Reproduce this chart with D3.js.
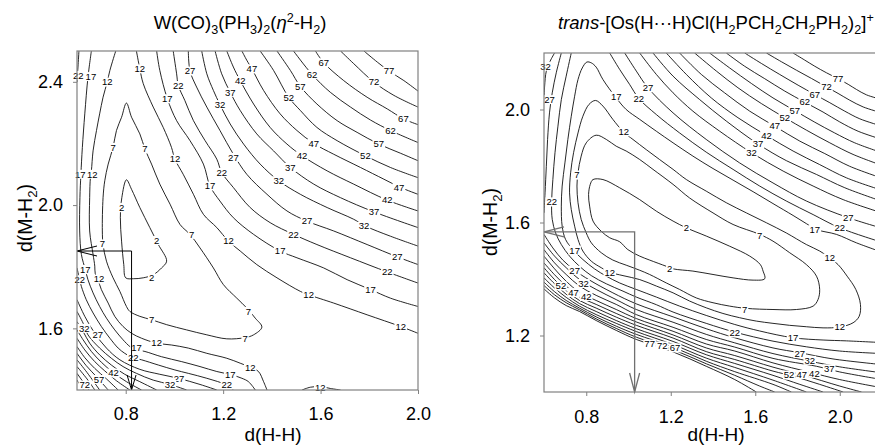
<!DOCTYPE html>
<html>
<head>
<meta charset="utf-8">
<script src="https://d3js.org/d3.v7.min.js"></script>
<style>
  body { margin: 0; background: #fff; }
  text { font-family: "Liberation Sans", Arial, sans-serif; }
</style>
</head>
<body>
<script>
// ---------- data: d(H-H) on x, d(M-H2) on y, energy contours (kcal/mol) ----------
const wTicksX = [0.8, 1.2, 1.6, 2.0];
const wTicksY = [1.6, 2.0, 2.4];
const osTicksX = [0.8, 1.2, 1.6, 2.0];
const osTicksY = [1.2, 1.6, 2.0];

// W(CO)3(PH3)2(H2) surface: [level, [[dHH, dMH], ...]]
const wContours = [
  [2, [[0.803,2.082],[0.824,2.051],[0.858,1.992],[0.899,1.927],[0.934,1.872],[0.968,1.818],[0.947,1.796],[0.913,1.774],[0.872,1.764],[0.831,1.761],[0.800,1.764],[0.792,1.807],[0.783,1.883],[0.778,1.959],[0.784,2.024],[0.803,2.082]]],
  [7, [[0.803,2.331],[0.824,2.285],[0.858,2.231],[0.879,2.182],[0.906,2.133],[0.940,2.068],[0.982,2.003],[1.023,1.937],[1.064,1.905],[1.105,1.861],[1.160,1.796],[1.201,1.742],[1.256,1.698],[1.297,1.666],[1.332,1.633],[1.359,1.604],[1.325,1.579],[1.290,1.570],[1.215,1.566],[1.133,1.579],[1.050,1.595],[0.968,1.612],[0.906,1.628],[0.858,1.639],[0.817,1.655],[0.803,1.671],[0.776,1.720],[0.748,1.764],[0.721,1.818],[0.707,1.872],[0.704,1.916],[0.707,2.024],[0.714,2.079],[0.728,2.133],[0.748,2.187],[0.762,2.242],[0.783,2.285],[0.803,2.331]]],
  [12, [[0.844,2.5],[0.858,2.442],[0.872,2.394],[0.913,2.318],[0.954,2.252],[0.988,2.187],[1.002,2.149],[1.036,2.100],[1.078,2.035],[1.119,1.970],[1.174,1.927],[1.222,1.883],[1.270,1.851],[1.338,1.807],[1.421,1.764],[1.517,1.720],[1.551,1.709],[1.654,1.682],[1.791,1.644],[1.929,1.606],[2.0,1.584]]],
  [12, [[0.759,2.5],[0.735,2.437],[0.724,2.399],[0.707,2.350],[0.693,2.296],[0.680,2.242],[0.666,2.176],[0.659,2.111],[0.655,2.089],[0.652,2.024],[0.652,1.916],[0.666,1.840],[0.673,1.802],[0.675,1.777],[0.686,1.758],[0.700,1.726],[0.728,1.682],[0.755,1.639],[0.789,1.606],[0.824,1.584],[0.865,1.568],[0.927,1.552],[0.988,1.546],[1.057,1.536],[1.133,1.519],[1.215,1.503],[1.270,1.487],[1.311,1.474],[1.345,1.460],[1.366,1.427],[1.380,1.4]]],
  [12, [[1.524,1.4],[1.558,1.409],[1.599,1.411],[1.640,1.405],[1.682,1.4]]],
  [17, [[0.927,2.5],[0.940,2.437],[0.971,2.345],[1.009,2.274],[1.064,2.209],[1.119,2.133],[1.146,2.062],[1.187,2.013],[1.242,1.959],[1.325,1.905],[1.434,1.851],[1.503,1.829],[1.613,1.796],[1.709,1.758],[1.805,1.726],[1.887,1.698],[2.0,1.671]]],
  [17, [[0.659,2.5],[0.645,2.415],[0.632,2.296],[0.622,2.187],[0.616,2.100],[0.612,2.024],[0.611,1.916],[0.618,1.840],[0.634,1.791],[0.645,1.758],[0.666,1.715],[0.693,1.671],[0.721,1.633],[0.755,1.595],[0.789,1.563],[0.817,1.541],[0.837,1.532],[0.879,1.525],[0.947,1.508],[1.030,1.492],[1.105,1.476],[1.174,1.460],[1.235,1.449],[1.277,1.438],[1.304,1.427],[1.332,1.4]]],
  [22, [[0.608,2.5],[0.604,2.448],[0.6,2.399]]],
  [22, [[0.6,1.796],[0.611,1.758],[0.618,1.736],[0.638,1.693],[0.666,1.650],[0.700,1.606],[0.735,1.568],[0.769,1.536],[0.796,1.519],[0.826,1.506],[0.865,1.498],[0.934,1.481],[1.002,1.465],[1.057,1.454],[1.133,1.438],[1.215,1.416],[1.242,1.4]]],
  [22, [[0.995,2.5],[1.009,2.426],[1.016,2.388],[1.043,2.339],[1.078,2.274],[1.126,2.209],[1.174,2.149],[1.194,2.106],[1.242,2.057],[1.311,1.992],[1.393,1.943],[1.489,1.905],[1.585,1.872],[1.723,1.829],[1.874,1.783],[2.0,1.747]]],
  [27, [[1.057,2.5],[1.064,2.435],[1.091,2.383],[1.133,2.318],[1.187,2.242],[1.242,2.165],[1.297,2.100],[1.380,2.035],[1.462,1.981],[1.544,1.948],[1.654,1.916],[1.791,1.872],[1.915,1.832],[2.0,1.807]]],
  [27, [[0.6,1.693],[0.632,1.639],[0.673,1.584],[0.721,1.536],[0.776,1.498],[0.858,1.467],[0.940,1.451],[1.016,1.438],[1.105,1.418],[1.174,1.4]]],
  [32, [[1.112,2.5],[1.133,2.426],[1.160,2.372],[1.187,2.326],[1.229,2.263],[1.284,2.198],[1.352,2.133],[1.428,2.079],[1.517,2.035],[1.627,1.992],[1.736,1.954],[1.784,1.932],[1.887,1.899],[2.0,1.867]]],
  [32, [[0.6,1.655],[0.625,1.617],[0.645,1.579],[0.693,1.536],[0.741,1.503],[0.789,1.476],[0.844,1.454],[0.913,1.432],[0.982,1.418],[1.050,1.4]]],
  [37, [[1.167,2.5],[1.194,2.426],[1.229,2.366],[1.270,2.307],[1.338,2.231],[1.407,2.176],[1.476,2.122],[1.572,2.068],[1.682,2.024],[1.819,1.978],[2.0,1.927]]],
  [37, [[0.6,1.622],[0.625,1.590],[0.652,1.552],[0.693,1.514],[0.741,1.481],[0.796,1.451],[0.858,1.427],[0.927,1.4]]],
  [42, [[1.215,2.5],[1.242,2.448],[1.270,2.404],[1.325,2.328],[1.393,2.252],[1.462,2.198],[1.524,2.160],[1.627,2.111],[1.736,2.068],[1.874,2.016],[2.0,1.981]]],
  [42, [[0.6,1.595],[0.625,1.563],[0.659,1.525],[0.700,1.490],[0.748,1.457],[0.803,1.427],[0.865,1.4]]],
  [47, [[1.277,2.5],[1.297,2.470],[1.318,2.442],[1.366,2.372],[1.434,2.296],[1.503,2.242],[1.572,2.200],[1.654,2.165],[1.764,2.122],[1.860,2.084],[1.929,2.057],[2.0,2.035]]],
  [47, [[0.6,1.568],[0.632,1.530],[0.673,1.492],[0.714,1.462],[0.762,1.430],[0.817,1.4]]],
  [52, [[1.352,2.5],[1.407,2.437],[1.469,2.350],[1.517,2.307],[1.585,2.252],[1.668,2.209],[1.784,2.160],[1.887,2.122],[2.0,2.089]]],
  [52, [[0.6,1.541],[0.632,1.505],[0.673,1.470],[0.721,1.436],[0.769,1.4]]],
  [57, [[1.421,2.5],[1.476,2.437],[1.517,2.385],[1.585,2.328],[1.668,2.274],[1.750,2.236],[1.839,2.198],[1.929,2.168],[2.0,2.144]]],
  [57, [[0.6,1.519],[0.638,1.479],[0.680,1.443],[0.728,1.4]]],
  [62, [[1.489,2.5],[1.565,2.424],[1.640,2.366],[1.723,2.318],[1.805,2.276],[1.887,2.242],[2.0,2.203]]],
  [62, [[0.6,1.498],[0.641,1.457],[0.693,1.4]]],
  [67, [[1.579,2.5],[1.613,2.462],[1.695,2.404],[1.791,2.350],[1.874,2.312],[1.940,2.280],[2.0,2.261]]],
  [67, [[0.6,1.476],[0.641,1.436],[0.673,1.4]]],
  [72, [[1.682,2.5],[1.736,2.459],[1.819,2.399],[1.901,2.356],[2.0,2.318]]],
  [72, [[0.6,1.454],[0.649,1.4]]],
  [77, [[1.778,2.5],[1.833,2.464],[1.881,2.435],[1.942,2.404],[2.0,2.370]]],
  [77, [[0.6,1.432],[0.627,1.4]]]
];

// contour labels: [text, dHH, dMH]
const wLabels = [
  [22,0.605,2.421],[17,0.657,2.417],[12,0.724,2.399],[12,0.858,2.442],[27,1.064,2.435],[22,1.016,2.388],[17,0.971,2.345],
  [47,1.318,2.442],[42,1.270,2.404],[37,1.229,2.366],[32,1.187,2.326],[67,1.613,2.462],[62,1.565,2.424],[57,1.517,2.385],[52,1.469,2.350],
  [77,1.881,2.435],[72,1.819,2.399],[67,1.940,2.280],[62,1.887,2.242],[57,1.839,2.198],[52,1.784,2.160],[47,1.922,2.057],[42,1.874,2.016],
  [37,1.819,1.978],[32,1.778,1.932],[27,1.915,1.832],[22,1.874,1.783],[17,1.805,1.726],[12,1.929,1.606],[12,1.551,1.709],[17,1.434,1.851],
  [22,1.489,1.905],[27,1.544,1.948],[32,1.428,2.079],[37,1.476,2.122],[42,1.524,2.160],[47,1.572,2.200],[27,1.242,2.155],[22,1.194,2.106],
  [17,1.146,2.062],[12,1.002,2.149],[7,0.879,2.182],[7,0.748,2.187],[17,0.613,2.100],[12,0.663,2.100],[2,0.783,1.992],[2,0.927,1.885],
  [7,1.071,1.905],[12,1.222,1.883],[2,0.906,1.766],[7,0.704,1.874],[17,0.634,1.791],[12,0.690,1.760],[22,0.611,1.758],[7,1.304,1.655],
  [7,0.906,1.628],[7,1.290,1.568],[12,0.927,1.552],[32,0.630,1.600],[27,0.685,1.578],[17,0.844,1.536],[22,0.831,1.506],[12,1.311,1.473],
  [17,1.229,1.449],[27,1.019,1.438],[32,0.982,1.418],[22,1.215,1.416],[72,0.632,1.416],[57,0.690,1.434],[42,0.750,1.455],[12,1.599,1.409]
];

// trans-[Os(H...H)Cl(dpe)2]+ surface
const osContours = [
  [2, [[0.832,1.752],[0.879,1.752],[0.958,1.723],[1.053,1.681],[1.132,1.640],[1.211,1.605],[1.274,1.581],[1.368,1.552],[1.479,1.516],[1.574,1.481],[1.624,1.451],[1.637,1.428],[1.645,1.401],[1.590,1.396],[1.495,1.404],[1.400,1.416],[1.305,1.428],[1.211,1.436],[1.179,1.445],[1.100,1.467],[1.053,1.481],[0.997,1.504],[0.958,1.532],[0.911,1.546],[0.871,1.569],[0.832,1.605],[0.816,1.658],[0.811,1.699],[0.819,1.735],[0.832,1.752]]],
  [7, [[0.847,1.909],[0.895,1.894],[0.942,1.870],[0.989,1.853],[1.053,1.823],[1.116,1.788],[1.211,1.735],[1.289,1.687],[1.400,1.634],[1.495,1.593],[1.621,1.558],[1.684,1.534],[1.763,1.493],[1.842,1.451],[1.890,1.410],[1.905,1.363],[1.897,1.327],[1.874,1.304],[1.795,1.292],[1.684,1.292],[1.558,1.296],[1.479,1.304],[1.400,1.316],[1.321,1.333],[1.242,1.363],[1.179,1.386],[1.100,1.416],[1.053,1.431],[0.989,1.449],[0.926,1.467],[0.871,1.493],[0.824,1.528],[0.800,1.563],[0.776,1.611],[0.761,1.670],[0.756,1.729],[0.761,1.776],[0.776,1.835],[0.800,1.882],[0.847,1.909]]],
  [12, [[0.844,2.032],[0.879,2.012],[0.926,1.965],[0.977,1.920],[1.021,1.894],[1.084,1.858],[1.147,1.823],[1.211,1.788],[1.274,1.752],[1.368,1.711],[1.463,1.670],[1.558,1.634],[1.653,1.599],[1.747,1.563],[1.842,1.522],[1.905,1.499],[1.953,1.475],[1.992,1.451],[2.035,1.410],[2.076,1.363],[2.098,1.310],[2.092,1.268],[2.063,1.245],[2.000,1.230],[1.921,1.227],[1.842,1.231],[1.763,1.236],[1.684,1.243],[1.605,1.251],[1.526,1.263],[1.447,1.278],[1.368,1.298],[1.289,1.322],[1.211,1.351],[1.132,1.375],[1.053,1.398],[0.974,1.412],[0.911,1.424],[0.871,1.440],[0.824,1.463],[0.784,1.499],[0.761,1.540],[0.745,1.587],[0.729,1.646],[0.721,1.705],[0.726,1.776],[0.740,1.847],[0.761,1.917],[0.784,1.976],[0.813,2.018],[0.844,2.032]]],
  [17, [[2.2,1.495],[2.079,1.528],[1.984,1.558],[1.890,1.575],[1.842,1.596],[1.779,1.625],[1.684,1.667],[1.590,1.709],[1.495,1.750],[1.400,1.791],[1.305,1.835],[1.211,1.882],[1.132,1.923],[1.053,1.965],[0.989,2.000],[0.942,2.041],[0.879,2.106],[0.847,2.150],[0.824,2.165],[0.803,2.168],[0.781,2.147],[0.761,2.106],[0.745,2.047],[0.729,1.976],[0.713,1.894],[0.699,1.811],[0.686,1.729],[0.682,1.658],[0.686,1.587],[0.702,1.540],[0.737,1.504],[0.784,1.469],[0.839,1.436],[0.895,1.410],[0.958,1.386],[1.037,1.363],[1.132,1.336],[1.242,1.304],[1.368,1.271],[1.503,1.239],[1.621,1.216],[1.779,1.192],[1.921,1.184],[2.032,1.181],[2.2,1.175]]],
  [22, [[0.911,2.2],[0.958,2.142],[1.005,2.089],[1.049,2.039],[1.132,1.982],[1.242,1.917],[1.368,1.849],[1.495,1.788],[1.621,1.729],[1.747,1.676],[1.874,1.628],[2.0,1.581],[2.2,1.530]]],
  [22, [[0.729,2.2],[0.705,2.118],[0.682,2.035],[0.666,1.941],[0.652,1.847],[0.642,1.752],[0.636,1.673],[0.639,1.611],[0.655,1.563],[0.682,1.522],[0.721,1.481],[0.768,1.445],[0.824,1.412],[0.895,1.383],[0.974,1.357],[1.037,1.336],[1.132,1.309],[1.211,1.283],[1.368,1.243],[1.503,1.212],[1.684,1.180],[1.842,1.160],[2.0,1.145],[2.2,1.136]]],
  [27, [[0.982,2.2],[1.037,2.136],[1.092,2.077],[1.211,1.988],[1.368,1.894],[1.526,1.811],[1.684,1.740],[1.842,1.676],[2.040,1.617],[2.2,1.580]]],
  [27, [[0.682,2.2],[0.658,2.130],[0.639,2.059],[0.626,1.988],[0.617,1.894],[0.611,1.799],[0.605,1.705],[0.6,1.634]]],
  [27, [[0.6,1.558],[0.642,1.510],[0.689,1.467],[0.745,1.431],[0.816,1.396],[0.926,1.351],[1.037,1.312],[1.211,1.266],[1.368,1.224],[1.503,1.192],[1.684,1.156],[1.811,1.139],[1.968,1.117],[2.2,1.097]]],
  [32, [[1.053,2.2],[1.132,2.124],[1.211,2.059],[1.305,1.994],[1.432,1.923],[1.582,1.847],[1.732,1.782],[1.874,1.729],[2.016,1.681],[2.2,1.634]]],
  [32, [[0.650,2.2],[0.629,2.171],[0.611,2.136],[0.603,2.083],[0.6,2.035]]],
  [32, [[0.6,1.528],[0.650,1.481],[0.705,1.440],[0.768,1.398],[0.847,1.363],[0.942,1.327],[1.037,1.292],[1.211,1.247],[1.368,1.204],[1.503,1.174],[1.684,1.136],[1.858,1.109],[2.0,1.089],[2.2,1.068]]],
  [37, [[1.116,2.2],[1.211,2.118],[1.337,2.035],[1.463,1.959],[1.613,1.878],[1.747,1.819],[1.890,1.770],[2.024,1.723],[2.2,1.675]]],
  [37, [[0.6,1.504],[0.650,1.457],[0.705,1.416],[0.768,1.375],[0.847,1.342],[0.942,1.310],[1.037,1.274],[1.211,1.229],[1.368,1.186],[1.503,1.159],[1.684,1.119],[1.890,1.091],[2.0,1.071],[2.2,1.044]]],
  [42, [[1.179,2.2],[1.274,2.124],[1.392,2.041],[1.518,1.971],[1.653,1.908],[1.779,1.853],[1.905,1.805],[2.032,1.758],[2.2,1.714]]],
  [42, [[0.6,1.481],[0.650,1.436],[0.705,1.392],[0.768,1.353],[0.847,1.324],[0.942,1.292],[1.037,1.260],[1.211,1.215],[1.368,1.170],[1.503,1.145],[1.684,1.103],[1.858,1.070],[2.0,1.044],[2.2,1.015]]],
  [47, [[1.242,2.2],[1.345,2.124],[1.455,2.059],[1.574,1.994],[1.692,1.941],[1.811,1.888],[1.929,1.844],[2.047,1.799],[2.2,1.757]]],
  [47, [[0.6,1.457],[0.650,1.415],[0.705,1.375],[0.768,1.337],[0.847,1.310],[0.942,1.278],[1.037,1.248],[1.211,1.202],[1.368,1.156],[1.503,1.129],[1.684,1.088],[1.826,1.060],[2.0,1.021],[2.103,1.0]]],
  [52, [[1.313,2.2],[1.416,2.136],[1.518,2.077],[1.629,2.021],[1.740,1.971],[1.842,1.927],[1.953,1.882],[2.063,1.841],[2.2,1.802]]],
  [52, [[0.6,1.440],[0.650,1.398],[0.705,1.359],[0.768,1.324],[0.847,1.297],[0.942,1.265],[1.037,1.236],[1.211,1.191],[1.368,1.143],[1.503,1.115],[1.684,1.074],[1.779,1.056],[1.905,1.027],[2.016,1.0]]],
  [57, [[1.384,2.2],[1.479,2.147],[1.582,2.092],[1.684,2.041],[1.787,1.996],[1.882,1.955],[1.976,1.917],[2.071,1.882],[2.2,1.847]]],
  [57, [[0.6,1.422],[0.650,1.383],[0.705,1.346],[0.768,1.313],[0.847,1.285],[0.942,1.253],[1.037,1.224],[1.211,1.179],[1.368,1.132],[1.503,1.101],[1.684,1.059],[1.811,1.027],[1.921,1.0]]],
  [62, [[1.463,2.2],[1.550,2.153],[1.645,2.109],[1.740,2.065],[1.834,2.026],[1.921,1.991],[2.0,1.956],[2.087,1.923],[2.2,1.894]]],
  [62, [[0.6,1.404],[0.650,1.368],[0.705,1.335],[0.768,1.304],[0.847,1.274],[0.942,1.243],[1.037,1.214],[1.211,1.168],[1.368,1.120],[1.503,1.087],[1.684,1.042],[1.842,1.0]]],
  [67, [[1.550,2.2],[1.629,2.163],[1.716,2.124],[1.803,2.086],[1.882,2.053],[1.953,2.024],[2.024,1.994],[2.095,1.967],[2.2,1.941]]],
  [67, [[0.6,1.389],[0.650,1.355],[0.705,1.324],[0.768,1.297],[0.847,1.266],[0.942,1.233],[1.037,1.204],[1.211,1.159],[1.368,1.109],[1.503,1.072],[1.684,1.027],[1.771,1.0]]],
  [72, [[1.653,2.2],[1.724,2.169],[1.795,2.139],[1.866,2.110],[1.937,2.080],[1.992,2.057],[2.047,2.033],[2.111,2.009],[2.2,1.988]]],
  [72, [[0.6,1.377],[0.650,1.344],[0.705,1.316],[0.768,1.291],[0.847,1.259],[0.942,1.225],[1.037,1.194],[1.211,1.150],[1.368,1.100],[1.503,1.059],[1.621,1.021],[1.692,1.0]]],
  [77, [[1.779,2.2],[1.834,2.175],[1.882,2.153],[1.937,2.130],[1.992,2.109],[2.040,2.089],[2.079,2.071],[2.126,2.052],[2.2,2.035]]],
  [77, [[0.6,1.365],[0.650,1.333],[0.705,1.306],[0.768,1.285],[0.847,1.253],[0.942,1.218],[1.037,1.186],[1.211,1.142],[1.368,1.091],[1.503,1.044],[1.605,1.0]]]
];

const osLabels = [
  [32,0.607,2.153],[27,0.626,2.035],[22,0.637,1.673],[7,0.756,1.768],[12,0.978,1.921],[17,0.942,2.047],[22,1.049,2.039],[27,1.092,2.077],
  [77,1.992,2.109],[72,1.937,2.080],[67,1.882,2.053],[62,1.834,2.026],[57,1.787,1.996],[52,1.740,1.971],[47,1.692,1.941],[42,1.653,1.908],
  [37,1.613,1.878],[32,1.582,1.847],[2,1.274,1.581],[7,1.621,1.554],[17,1.882,1.575],[22,2.0,1.581],[27,2.040,1.617],[12,1.953,1.475],
  [2,1.195,1.436],[17,0.745,1.502],[27,0.745,1.431],[12,0.911,1.424],[32,0.787,1.384],[52,0.680,1.375],[47,0.740,1.352],[42,0.800,1.338],
  [7,1.550,1.292],[12,2.0,1.230],[22,1.503,1.209],[17,1.779,1.192],[77,1.100,1.170],[72,1.160,1.163],[67,1.220,1.156],
  [27,1.811,1.136],[32,1.858,1.112],[37,1.950,1.082],[42,1.880,1.066],[52,1.760,1.060],[47,1.820,1.062]
];

// the drop lines with arrows mark the minimum-energy geometry
const wArrow = [0.824, 1.851];
const osArrow = [1.029, 1.567];

// ---------- drawing ----------
var width = 875, height = 446;

var svg = d3.select("body")
  .append("svg")
  .attr("width", width)
  .attr("height", height);

// little helper for chemical formulas with sub/superscripts
function richText(t, parts) {
  var shift = 0;
  parts.forEach(function(p) {
    var ts = t.append("tspan").text(p[0]);
    var want = p[1] == "sub" ? 5 : p[1] == "sup" ? -7 : 0;
    if (want != shift) ts.attr("dy", want - shift);
    shift = want;
    if (p[1] == "sub" || p[1] == "sup") ts.attr("font-size", "0.68em");
    if (p[1] == "i") ts.attr("font-style", "italic");
  });
}

function drawPanel(p) {
  var x = d3.scaleLinear().domain(p.xDomain).range([p.left, p.right]);
  var y = d3.scaleLinear().domain(p.yDomain).range([p.bottom, p.top]);
  var g = svg.append("g");

  g.append("clipPath").attr("id", p.id + "-clip")
    .append("rect")
    .attr("x", p.left).attr("y", p.top)
    .attr("width", p.right - p.left).attr("height", p.bottom - p.top);

  var open = d3.line().x(d => x(d[0])).y(d => y(d[1])).curve(d3.curveCatmullRom.alpha(0.5));
  var closed = d3.line().x(d => x(d[0])).y(d => y(d[1])).curve(d3.curveCatmullRomClosed.alpha(0.5));

  var plot = g.append("g").attr("clip-path", "url(#" + p.id + "-clip)");
  plot.selectAll("path")
    .data(p.contours)
    .enter()
    .append("path")
    .attr("d", function(c) {
      var pts = c[1], a = pts[0], b = pts[pts.length - 1];
      return (a[0] == b[0] && a[1] == b[1]) ? closed(pts.slice(0, -1)) : open(pts);
    })
    .attr("fill", "none")
    .attr("stroke", "#000")
    .attr("stroke-width", 0.85);

  // contour labels on white boxes
  var lab = g.selectAll("g.lab")
    .data(p.labels)
    .enter()
    .append("g")
    .attr("class", "lab")
    .attr("transform", d => "translate(" + x(d[1]) + "," + y(d[2]) + ")");
  lab.append("rect").attr("fill", "#fff");
  lab.append("text")
    .text(d => d[0])
    .attr("text-anchor", "middle")
    .attr("dy", "0.35em")
    .attr("font-size", 9.5)
    .attr("fill", "#000")
    .each(function() {
      var w = this.getComputedTextLength();
      d3.select(this.previousSibling)
        .attr("x", -w / 2 - 1).attr("y", -4.5)
        .attr("width", w + 2).attr("height", 9);
    });

  // drop lines + open arrow heads
  var ax = x(p.arrow[0]), ay = y(p.arrow[1]);
  var arr = g.append("g")
    .attr("fill", "none")
    .attr("stroke", p.arrowColor)
    .attr("stroke-width", p.arrowWidth);
  arr.append("path").attr("d", "M" + p.left + "," + ay + "H" + ax + "V" + p.bottom);
  arr.append("path").attr("d", "M" + (p.left + 20) + "," + (ay - 5) + "L" + p.left + "," + ay + "L" + (p.left + 20) + "," + (ay + 5));
  arr.append("path").attr("d", "M" + (ax - p.headW) + "," + (p.bottom - p.headL) + "L" + ax + "," + p.bottom + "L" + (ax + p.headW) + "," + (p.bottom - p.headL));

  // axes
  var xAxis = g.append("g")
    .attr("transform", "translate(0," + p.bottom + ")")
    .call(d3.axisBottom(x).tickValues(p.ticksX).tickFormat(d3.format(".1f")).tickSize(4).tickPadding(p.xPad));
  var yAxis = g.append("g")
    .attr("transform", "translate(" + p.left + ",0)")
    .call(d3.axisLeft(y).tickValues(p.ticksY).tickFormat(d3.format(".1f")).tickSize(4).tickPadding(10));
  [xAxis, yAxis].forEach(function(a) {
    a.select(".domain").remove();
    a.selectAll("line").attr("stroke", "#808080");
    a.selectAll("text").attr("font-size", 18).attr("fill", "#000")
      .attr("font-family", "'Liberation Sans', Arial, sans-serif");
  });

  // frame
  g.append("rect")
    .attr("x", p.left).attr("y", p.top)
    .attr("width", p.right - p.left).attr("height", p.bottom - p.top)
    .attr("fill", "none").attr("stroke", "#808080").attr("stroke-width", 1.2);

  // axis titles
  g.append("text")
    .attr("x", p.xTitleX).attr("y", 441)
    .attr("text-anchor", "middle").attr("font-size", 19)
    .text("d(H-H)");
  var yt = g.append("text")
    .attr("transform", "translate(" + p.yTitleX + "," + p.yTitleY + ") rotate(-90)")
    .attr("text-anchor", "middle").attr("dy", "0.35em").attr("font-size", 19.5);
  richText(yt, [["d(M-H", "n"], ["2", "sub"], [")", "n"]]);

  var tt = g.append("text")
    .attr("x", p.titleX).attr("y", 29)
    .attr("text-anchor", p.titleAnchor).attr("font-size", 18.5);
  richText(tt, p.title);
}

drawPanel({
  id: "w", xDomain: [0.6, 2.0], yDomain: [1.4, 2.5],
  left: 77, right: 418, top: 51, bottom: 390,
  contours: wContours, labels: wLabels, ticksX: wTicksX, ticksY: wTicksY,
  arrow: wArrow, arrowColor: "#000", arrowWidth: 1, headW: 4.5, headL: 15, xPad: 13,
  xTitleX: 273, yTitleX: 25, yTitleY: 218,
  titleX: 240, titleAnchor: "middle",
  title: [["W(CO)", "n"], ["3", "sub"], ["(PH", "n"], ["3", "sub"], [")", "n"], ["2", "sub"], ["(", "n"], ["\u03b7", "i"], ["2", "sup"], ["-H", "n"], ["2", "sub"], [")", "n"]]
});

drawPanel({
  id: "os", xDomain: [0.6, 2.2], yDomain: [1.0, 2.2],
  left: 544, right: 882, top: 53, bottom: 392,
  contours: osContours, labels: osLabels, ticksX: osTicksX, ticksY: osTicksY,
  arrow: osArrow, arrowColor: "#707070", arrowWidth: 1.3, headW: 5, headL: 19, xPad: 14,
  xTitleX: 716, yTitleX: 490, yTitleY: 222,
  titleX: 558, titleAnchor: "start",
  title: [["trans", "i"], ["-[Os(H\u00b7\u00b7\u00b7H)Cl(H", "n"], ["2", "sub"], ["PCH", "n"], ["2", "sub"], ["CH", "n"], ["2", "sub"], ["PH", "n"], ["2", "sub"], [")", "n"], ["2", "sub"], ["]", "n"], ["+", "sup"]]
});
</script>
</body>
</html>
